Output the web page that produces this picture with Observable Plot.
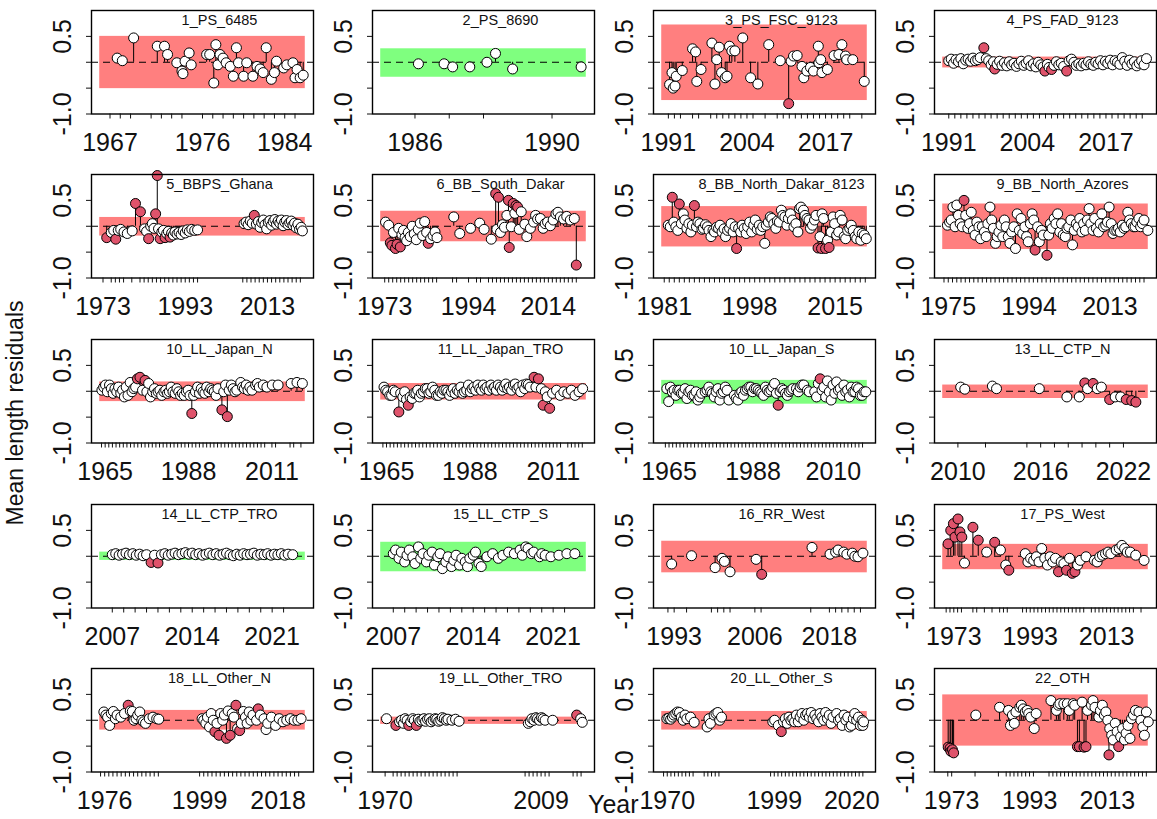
<!DOCTYPE html>
<html><head><meta charset="utf-8">
<script src="https://cdn.jsdelivr.net/npm/d3@7"></script>
<script src="https://cdn.jsdelivr.net/npm/@observablehq/plot@0.6"></script>
<style>
body{margin:0;background:#fff;}
#wrap{position:relative;width:1157px;height:819px;overflow:hidden;font-family:"Liberation Sans",Arial,sans-serif;}
</style></head><body><div id="wrap"></div>
<script>
// ---- panel metadata ----
const NAMES = ["1_PS_6485","2_PS_8690","3_PS_FSC_9123","4_PS_FAD_9123","5_BBPS_Ghana","6_BB_South_Dakar","8_BB_North_Dakar_8123","9_BB_North_Azores","10_LL_Japan_N","11_LL_Japan_TRO","10_LL_Japan_S","13_LL_CTP_N","14_LL_CTP_TRO","15_LL_CTP_S","16_RR_West","17_PS_West","18_LL_Other_N","19_LL_Other_TRO","20_LL_Other_S","22_OTH"];
const BAND_START = [1966,1985,1989.9,1990,1972.2,1972,1980.5,1973.7,1963.5,1963.4,1963.0,2008.9,2005.9,2005.9,1991.0,1970.1,1974.8,1968.9,1968.5,1970.7];
const BAND_END = [1986,1991,2023.9,2024,2022.2,2023.5,2021.4,2022.0,2020.2,2020.1,2019.3,2023.8,2023.9,2023.9,2024.1,2023.9,2024.6,2020.3,2024.2,2023.5];
const BAND_LO = [-0.51,-0.29,-0.74,-0.11,-0.19,-0.30,-0.40,-0.45,-0.20,-0.17,-0.25,-0.14,-0.08,-0.30,-0.32,-0.26,-0.19,-0.08,-0.19,-0.50];
const BAND_HI = [0.50,0.26,0.72,0.10,0.17,0.29,0.38,0.43,0.18,0.15,0.21,0.12,0.08,0.27,0.29,0.23,0.19,0.06,0.17,0.49];
const RUNS_PASS = [false,true,false,false,false,false,false,false,false,false,true,false,true,true,false,false,false,false,false,false];
const YEAR_LABELS = [[1967,1976,1984],[1986,1990],[1991,2004,2017],[1991,2004,2017],[1973,1993,2013],[1973,1994,2014],[1981,1998,2015],[1975,1994,2013],[1965,1988,2011],[1965,1988,2011],[1965,1988,2010],[2010,2016,2022],[2007,2014,2021],[2007,2014,2021],[1993,2006,2018],[1973,1993,2013],[1976,1999,2018],[1970,2009],[1970,1999,2020],[1973,1993,2013]];
const Y_TICKS = [-1,-0.5,0,0.5];
const Y_TICK_LABELS = [[0.5,"0.5"],[-1,"-1.0"]];

// ---- residuals: [year, mean length residual] ----
const p1 = [[1967.7,0.08],[1968.2,0.03],[1969.3,0.47],[1971.6,0.31],[1972.3,0.31],[1972.6,0.15],[1973.5,-0.01],[1974.0,-0.17],[1974.1,-0.22],[1974.3,0.02],[1974.7,0.18],[1974.9,-0.05],[1976.4,0.15],[1976.7,0.15],[1977.1,-0.40],[1977.3,0.34],[1977.5,-0.05],[1977.7,0.15],[1978.0,0.08],[1978.3,-0.01],[1978.7,-0.08],[1979.0,-0.27],[1979.3,0.28],[1979.5,-0.01],[1980.0,-0.27],[1980.3,-0.01],[1980.9,-0.27],[1981.3,-0.08],[1981.6,-0.13],[1981.9,-0.20],[1982.2,0.28],[1982.7,-0.33],[1983.0,-0.20],[1983.2,0.02],[1983.9,-0.11],[1984.2,-0.05],[1984.8,-0.01],[1985.0,-0.30],[1985.2,-0.14],[1985.5,-0.30],[1985.8,-0.25]];
const p2 = [[1986.1,-0.03],[1986.85,-0.03],[1987.1,-0.09],[1987.6,-0.09],[1988.1,0],[1988.35,0.17],[1988.85,-0.13],[1990.85,-0.09]];
const p3 = [[1991.2,-0.43],[1991.6,-0.20],[1991.8,-0.50],[1992.1,-0.46],[1992.3,-0.27],[1993.3,-0.16],[1995.0,0.26],[1995.5,0.20],[1995.7,-0.37],[1996.4,-0.14],[1998.2,0.37],[1998.7,-0.42],[1999.0,0.05],[1999.4,0.29],[1999.8,-0.20],[2000.4,-0.30],[2000.7,-0.27],[2001.1,0.31],[2001.5,0.22],[2002.0,0.22],[2003.3,0.47],[2004.6,-0.30],[2005.8,-0.42],[2007.6,0.34],[2009.5,0.03],[2010.9,-0.80],[2011.3,0.02],[2011.7,0.12],[2012.3,0.13],[2013.1,-0.08],[2013.4,-0.30],[2013.9,-0.17],[2014.5,-0.10],[2015.0,-0.17],[2015.8,0.31],[2015.9,-0.01],[2016.2,0.05],[2016.4,-0.20],[2017.3,-0.14],[2018.4,0.13],[2019.2,0.15],[2019.7,0.34],[2020.3,0.12],[2020.5,0.05],[2021.5,0.05],[2023.4,-0.37]];
const p4 = [[1991.0,0.03],[1991.4,0.06],[1991.8,-0.02],[1992.2,0.05],[1992.6,0.01],[1993.0,0.07],[1993.4,-0.03],[1993.8,0.04],[1994.2,0.06],[1994.6,0.02],[1995.0,0.08],[1995.4,0.03],[1995.8,0.05],[1996.2,0.09],[1996.8,0.28],[1997.2,0.07],[1997.6,0.03],[1998.0,-0.05],[1998.4,0.01],[1998.6,-0.13],[1999.0,-0.04],[1999.4,0.02],[1999.8,-0.06],[2000.2,-0.01],[2000.6,-0.07],[2001.0,0.01],[2001.4,-0.05],[2001.8,-0.02],[2002.2,-0.08],[2002.6,-0.03],[2003.0,0.02],[2003.4,-0.06],[2003.8,-0.02],[2004.2,0.03],[2004.6,-0.07],[2005.0,-0.03],[2005.4,-0.09],[2005.8,0.0],[2006.2,-0.05],[2006.6,-0.09],[2006.9,-0.17],[2007.3,-0.04],[2007.6,-0.10],[2008.0,-0.14],[2008.4,-0.06],[2008.8,0.01],[2009.2,-0.05],[2009.6,-0.02],[2010.0,-0.08],[2010.5,-0.17],[2010.9,0.03],[2011.3,0.06],[2011.7,0.0],[2012.1,-0.06],[2012.5,-0.03],[2012.9,-0.07],[2013.3,-0.02],[2013.7,-0.05],[2014.1,0.01],[2014.5,-0.04],[2014.9,-0.06],[2015.3,0.0],[2015.7,-0.03],[2016.1,0.03],[2016.5,-0.05],[2016.9,0.02],[2017.3,-0.02],[2017.7,0.04],[2018.1,-0.05],[2018.5,0.03],[2018.9,0.0],[2019.3,-0.04],[2019.7,0.09],[2020.1,0.02],[2020.5,-0.06],[2020.9,0.04],[2021.3,-0.03],[2021.7,0.01],[2022.1,-0.07],[2022.5,-0.02],[2022.9,0.03],[2023.3,-0.05],[2023.7,0.07]];
const p5 = [[1973.9,-0.22],[1975.0,-0.12],[1975.6,-0.08],[1976.1,-0.25],[1976.7,-0.08],[1977.3,-0.06],[1978.1,-0.11],[1978.9,-0.14],[1980.1,-0.09],[1980.9,0.44],[1982.1,0.28],[1983.1,-0.05],[1983.6,-0.10],[1984.1,-0.24],[1984.6,0.0],[1985.0,0.05],[1985.4,-0.04],[1985.8,0.24],[1986.2,0.98],[1986.5,-0.05],[1986.9,-0.24],[1987.3,-0.11],[1987.7,-0.08],[1988.1,-0.22],[1988.5,-0.14],[1988.9,-0.10],[1989.3,-0.21],[1989.7,-0.13],[1990.1,-0.17],[1990.5,-0.11],[1991.0,-0.15],[1991.5,-0.12],[1992.0,-0.16],[1992.5,-0.09],[1993.0,-0.13],[1993.5,-0.07],[1994.0,-0.10],[1994.6,-0.06],[1995.3,-0.08],[1996.0,-0.07],[2007.3,0.05],[2007.8,0.08],[2008.3,0.03],[2008.8,0.10],[2009.3,0.06],[2009.8,0.21],[2010.3,0.04],[2010.8,0.09],[2011.2,-0.02],[2011.6,0.07],[2012.0,0.12],[2012.4,0.03],[2012.8,-0.05],[2013.2,0.08],[2013.6,0.11],[2014.0,0.02],[2014.4,0.09],[2014.8,0.13],[2015.2,0.04],[2015.6,0.10],[2016.0,0.06],[2016.4,0.12],[2016.8,0.01],[2017.2,0.08],[2017.6,0.11],[2018.0,0.03],[2018.4,0.07],[2018.8,0.10],[2019.2,0.02],[2019.6,0.06],[2020.0,-0.03],[2020.4,0.04],[2020.8,-0.06],[2021.2,-0.02],[2021.5,-0.09]];
const p6 = [[1973.2,0.08],[1974.0,0.02],[1974.4,-0.32],[1974.8,-0.37],[1975.2,-0.12],[1975.7,-0.43],[1976.1,-0.35],[1976.5,-0.04],[1976.9,-0.40],[1977.3,-0.16],[1977.7,-0.08],[1978.1,-0.22],[1978.5,-0.28],[1978.9,-0.12],[1979.4,-0.20],[1979.9,0.0],[1980.4,-0.15],[1980.9,-0.26],[1981.4,-0.06],[1981.9,0.06],[1982.5,-0.18],[1983.0,0.09],[1983.5,-0.12],[1983.9,-0.33],[1984.5,-0.24],[1985.1,-0.18],[1985.6,-0.11],[1986.1,-0.22],[1990.3,0.18],[1991.8,-0.14],[1994.5,-0.04],[1996.8,0.06],[1997.9,-0.06],[1999.7,-0.25],[2000.8,0.63],[2001.1,-0.06],[2001.5,0.56],[2002.0,-0.12],[2002.5,0.03],[2003.0,-0.02],[2003.6,0.21],[2004.0,0.50],[2004.2,-0.41],[2004.7,-0.01],[2005.2,0.44],[2005.6,0.25],[2005.9,0.40],[2006.3,0.37],[2006.7,-0.06],[2007.2,0.28],[2008.1,0.04],[2008.6,-0.20],[2009.5,-0.04],[2010.3,0.08],[2010.8,0.21],[2011.3,0.14],[2012.0,0.15],[2012.7,-0.04],[2013.2,0.05],[2013.8,0.08],[2014.5,0.01],[2015.2,0.12],[2015.9,0.24],[2016.4,0.27],[2017.0,0.18],[2017.8,0.14],[2018.6,0.19],[2019.5,0.12],[2020.5,0.15],[2021.0,-0.75]];
const p8 = [[1981.8,0.02],[1982.2,-0.01],[1982.6,0.56],[1982.9,0.08],[1983.3,-0.01],[1983.7,-0.08],[1984.0,0.43],[1984.4,0.05],[1984.8,0.24],[1985.1,0.12],[1985.5,-0.04],[1985.9,0.05],[1986.3,-0.11],[1986.6,0.02],[1987.0,0.40],[1987.4,-0.01],[1987.7,0.08],[1988.1,0.05],[1988.5,-0.06],[1988.8,-0.04],[1989.2,0.03],[1989.6,-0.01],[1989.9,-0.08],[1990.3,-0.20],[1990.7,-0.08],[1991.0,-0.11],[1991.4,-0.02],[1991.8,-0.04],[1992.1,0.02],[1992.5,-0.11],[1992.9,-0.05],[1993.2,-0.20],[1993.6,-0.08],[1994.0,-0.04],[1994.3,0.05],[1994.7,-0.11],[1995.1,-0.01],[1995.4,-0.43],[1995.8,-0.04],[1996.2,-0.11],[1996.5,0.02],[1996.9,-0.04],[1997.3,-0.14],[1997.6,-0.01],[1998.0,0.08],[1998.4,-0.11],[1998.8,0.02],[1999.1,0.12],[1999.5,-0.06],[1999.9,0.02],[2000.2,-0.08],[2000.6,-0.01],[2001.0,-0.33],[2001.3,0.02],[2001.7,0.08],[2002.1,0.18],[2002.4,0.15],[2002.8,0.05],[2003.2,-0.04],[2003.5,0.10],[2003.9,0.08],[2004.3,0.31],[2004.6,0.21],[2005.0,0.18],[2005.4,0.02],[2005.7,0.15],[2006.1,0.24],[2006.5,0.12],[2006.8,-0.01],[2007.2,0.05],[2007.6,-0.11],[2007.9,0.34],[2008.2,0.37],[2008.7,0.31],[2009.0,0.21],[2009.4,0.15],[2009.8,0.12],[2010.1,-0.04],[2010.5,0.02],[2010.9,0.12],[2011.2,0.21],[2011.6,-0.42],[2012.0,-0.20],[2012.3,-0.43],[2012.4,0.24],[2012.7,0.15],[2013.1,-0.43],[2013.5,-0.27],[2013.8,-0.41],[2014.2,-0.11],[2014.6,0.18],[2014.9,0.05],[2015.3,-0.17],[2015.7,-0.11],[2016.0,0.21],[2016.4,0.12],[2016.8,-0.20],[2017.1,-0.24],[2017.5,-0.08],[2017.9,-0.04],[2018.2,0.02],[2018.6,-0.08],[2019.0,-0.20],[2019.3,-0.24],[2019.7,-0.11],[2020.1,-0.27],[2020.4,-0.14],[2020.8,-0.17],[2021.2,-0.24]];
const p9 = [[1974.8,0.02],[1975.3,0.08],[1975.7,0.12],[1976.1,0.37],[1976.6,-0.01],[1977.0,0.41],[1977.4,0.21],[1977.8,0.05],[1978.3,-0.01],[1978.7,0.50],[1979.1,0.21],[1979.6,-0.04],[1980.0,0.05],[1980.4,0.27],[1980.9,-0.08],[1981.3,-0.17],[1981.7,0.08],[1982.2,-0.01],[1982.6,-0.24],[1983.0,-0.01],[1983.5,-0.11],[1983.9,-0.20],[1984.3,0.05],[1984.8,0.37],[1985.2,0.12],[1985.6,-0.04],[1986.1,-0.33],[1986.5,-0.20],[1986.9,-0.11],[1987.4,0.02],[1987.8,-0.20],[1988.2,0.12],[1988.6,-0.01],[1989.1,-0.20],[1989.5,-0.33],[1989.9,-0.11],[1990.4,-0.01],[1990.8,-0.43],[1991.2,0.24],[1991.7,-0.08],[1992.1,0.15],[1992.5,-0.14],[1993.0,-0.01],[1993.4,-0.20],[1993.8,-0.30],[1994.3,0.05],[1994.7,0.24],[1995.1,0.12],[1995.4,-0.46],[1996.0,-0.01],[1996.4,-0.30],[1996.9,-0.08],[1997.3,-0.17],[1998.2,-0.56],[1998.6,-0.17],[1999.0,0.05],[1999.4,-0.04],[1999.9,0.15],[2000.3,0.05],[2000.7,0.24],[2001.2,-0.11],[2001.6,0.05],[2002.0,-0.17],[2002.5,-0.20],[2002.9,-0.04],[2003.3,-0.01],[2003.8,0.12],[2004.2,-0.36],[2004.6,-0.08],[2005.1,0.05],[2005.5,-0.01],[2005.9,0.15],[2006.4,-0.11],[2006.8,0.05],[2007.2,-0.08],[2007.7,0.12],[2008.1,0.34],[2008.5,0.05],[2009.0,-0.08],[2009.4,0.15],[2009.8,-0.04],[2010.3,-0.11],[2010.7,0.05],[2011.1,0.24],[2011.5,-0.01],[2012.0,0.02],[2012.4,0.08],[2012.8,0.37],[2013.3,0.05],[2013.7,-0.14],[2014.1,-0.08],[2014.6,-0.08],[2015.0,-0.04],[2015.4,-0.11],[2015.9,0.02],[2016.3,-0.04],[2016.7,-0.01],[2017.2,0.27],[2017.6,0.12],[2018.0,0.05],[2018.5,-0.01],[2018.9,-0.01],[2019.3,0.08],[2019.8,0.15],[2020.2,-0.01],[2020.6,0.05],[2021.0,0.12],[2021.9,-0.08]];
const p10 = [[1964.1,0.02],[1964.6,0.08],[1965.1,0.12],[1965.6,-0.01],[1966.2,0.12],[1966.7,0.05],[1967.2,-0.04],[1967.7,0.05],[1968.2,-0.01],[1968.7,0.08],[1969.3,-0.04],[1969.8,0.02],[1970.3,-0.11],[1970.8,0.08],[1971.3,-0.08],[1971.9,0.17],[1972.4,-0.01],[1972.9,0.05],[1973.4,0.08],[1973.9,0.24],[1974.6,0.27],[1975.3,0.02],[1976.0,0.21],[1976.5,-0.01],[1977.0,0.15],[1977.5,-0.11],[1978.1,-0.01],[1978.6,0.05],[1979.1,-0.04],[1979.6,-0.01],[1980.1,0.02],[1980.6,-0.08],[1981.2,-0.01],[1981.7,0.02],[1982.2,-0.04],[1982.7,-0.01],[1983.2,0.08],[1983.7,-0.01],[1984.3,-0.04],[1984.8,0.05],[1985.3,-0.01],[1985.8,-0.08],[1986.3,-0.04],[1986.8,-0.08],[1987.4,-0.01],[1987.9,0.02],[1988.4,-0.08],[1988.9,-0.43],[1989.4,-0.08],[1989.9,-0.01],[1990.5,0.08],[1991.0,-0.04],[1991.5,0.05],[1992.0,-0.01],[1992.5,-0.04],[1993.0,0.08],[1993.6,-0.01],[1994.1,0.05],[1994.6,0.02],[1995.1,-0.01],[1995.6,-0.08],[1996.1,0.05],[1997.2,-0.36],[1997.7,-0.01],[1998.2,0.12],[1998.7,-0.49],[1999.2,0.02],[1999.8,0.12],[2000.3,0.05],[2000.8,-0.01],[2001.3,0.02],[2002.4,0.17],[2002.9,0.08],[2003.4,0.05],[2003.9,0.12],[2004.4,0.02],[2004.9,0.08],[2005.5,0.02],[2006.5,0.12],[2007.0,0.15],[2007.5,0.08],[2008.6,0.12],[2009.6,0.08],[2011.1,0.12],[2012.7,0.12],[2016.3,0.15],[2017.9,0.17],[2019.4,0.15]];
const p11 = [[1964.3,0.08],[1964.8,0.02],[1965.3,-0.01],[1965.9,-0.08],[1966.4,-0.08],[1966.9,0.02],[1967.4,-0.01],[1968.4,-0.40],[1968.9,-0.04],[1969.5,-0.11],[1970.0,-0.01],[1970.5,-0.16],[1971.0,-0.27],[1971.5,-0.11],[1972.1,-0.14],[1972.6,-0.04],[1973.1,-0.04],[1973.6,0.02],[1974.1,-0.11],[1974.6,-0.04],[1975.2,-0.01],[1975.7,0.05],[1976.2,0.05],[1976.7,-0.04],[1977.2,-0.01],[1977.7,0.08],[1978.3,0.02],[1978.8,-0.08],[1979.3,-0.08],[1979.8,-0.01],[1980.3,-0.04],[1980.8,0.02],[1981.4,0.02],[1981.9,-0.01],[1982.4,-0.08],[1982.9,-0.01],[1983.4,0.05],[1983.9,-0.04],[1984.5,0.02],[1985.0,-0.01],[1985.5,0.08],[1986.0,-0.04],[1986.5,-0.01],[1987.1,0.02],[1987.6,0.12],[1988.1,-0.01],[1988.6,0.05],[1989.1,0.08],[1989.6,0.02],[1990.2,0.12],[1990.7,0.05],[1991.2,0.02],[1991.7,0.12],[1992.2,0.05],[1992.7,0.08],[1993.3,0.02],[1993.8,0.12],[1994.3,0.05],[1994.8,0.08],[1995.3,0.02],[1995.8,0.12],[1996.4,0.08],[1996.9,0.02],[1997.4,0.08],[1997.9,0.14],[1998.4,0.05],[1998.9,0.08],[1999.5,0.02],[2000.0,0.12],[2000.5,0.14],[2001.0,0.05],[2001.5,0.08],[2002.0,-0.01],[2002.6,0.12],[2003.1,0.05],[2003.6,0.14],[2004.1,0.13],[2004.6,0.08],[2005.7,0.27],[2006.2,0.08],[2006.9,0.24],[2007.7,0.05],[2008.2,-0.27],[2008.8,-0.01],[2009.3,-0.11],[2010.0,-0.33],[2010.8,-0.04],[2011.9,0.02],[2012.9,-0.08],[2013.9,-0.01],[2015.0,-0.04],[2016.0,0.02],[2017.0,-0.08],[2018.1,-0.01],[2019.1,0.05]];
const p12 = [[1964.4,0.05],[1964.9,-0.20],[1965.4,0.08],[1965.9,-0.01],[1966.4,0.02],[1966.9,-0.08],[1967.4,0.02],[1967.9,0.02],[1968.4,-0.04],[1968.9,-0.04],[1969.4,0.05],[1969.9,-0.14],[1970.4,-0.01],[1970.9,0.02],[1971.4,-0.08],[1971.9,-0.08],[1972.4,-0.01],[1972.9,-0.17],[1973.4,-0.11],[1973.9,-0.04],[1974.9,-0.01],[1975.4,0.02],[1975.9,0.08],[1976.4,-0.01],[1976.9,-0.04],[1977.4,-0.11],[1977.9,-0.01],[1978.4,0.05],[1978.9,-0.17],[1979.4,-0.04],[1979.9,-0.01],[1980.4,0.08],[1980.9,0.02],[1981.4,-0.17],[1982.9,-0.08],[1983.4,-0.14],[1983.9,-0.17],[1984.4,-0.04],[1984.9,-0.01],[1985.4,-0.08],[1985.9,0.02],[1986.4,0.05],[1986.9,0.08],[1987.4,0.08],[1987.9,-0.01],[1988.4,0.05],[1988.9,0.05],[1989.4,0.02],[1989.9,-0.01],[1990.4,-0.04],[1990.9,-0.08],[1991.4,0.08],[1991.9,0.02],[1992.4,-0.01],[1992.9,0.02],[1993.4,0.08],[1993.9,0.15],[1994.4,-0.04],[1994.9,-0.27],[1995.4,-0.01],[1995.9,0.05],[1996.4,0.02],[1996.9,-0.04],[1997.4,-0.08],[1997.9,-0.01],[1998.4,0.02],[1998.9,0.05],[1999.9,0.05],[2000.4,-0.01],[2000.9,0.08],[2001.4,0.12],[2001.9,0.12],[2002.9,0.02],[2003.4,-0.01],[2004.9,-0.01],[2005.4,-0.11],[2005.9,0.15],[2006.4,0.24],[2006.9,0.02],[2007.4,0.08],[2007.9,-0.11],[2008.4,0.20],[2008.9,-0.01],[2009.4,-0.17],[2009.9,0.12],[2010.4,-0.04],[2010.9,0.18],[2011.4,0.02],[2011.9,0.05],[2012.4,-0.08],[2012.9,0.12],[2013.4,-0.01],[2013.9,0.02],[2014.4,-0.11],[2014.9,0.08],[2015.4,-0.01],[2015.9,-0.01],[2016.4,0.08],[2016.9,0.05],[2017.4,-0.08],[2017.9,-0.08],[2018.4,-0.01],[2018.9,-0.01]];
const p13 = [[2010.2,0.08],[2010.5,0.04],[2012.5,0.10],[2012.8,0.05],[2015.9,0.05],[2017.9,-0.11],[2018.8,-0.11],[2019.2,0.16],[2019.4,0.05],[2019.8,0.15],[2020.1,0.05],[2020.4,0.08],[2021.0,-0.16],[2021.4,-0.11],[2021.8,-0.11],[2022.2,-0.16],[2022.6,-0.18],[2022.9,-0.21]];
const p14 = [[2007.0,0.03],[2007.3,0.05],[2007.6,0.02],[2007.9,0.04],[2008.2,0.06],[2008.5,0.03],[2008.8,0.05],[2009.1,0.02],[2009.4,0.04],[2009.7,0.01],[2010.0,0.03],[2010.4,-0.12],[2010.7,0.02],[2011.0,-0.13],[2011.3,0.03],[2011.6,0.05],[2011.9,0.02],[2012.2,0.04],[2012.5,0.06],[2012.8,0.03],[2013.1,0.05],[2013.4,0.07],[2013.7,0.04],[2014.0,0.06],[2014.3,0.03],[2014.6,0.05],[2014.9,0.02],[2015.2,0.04],[2015.5,0.06],[2015.8,0.03],[2016.1,0.05],[2016.4,0.02],[2016.7,0.04],[2017.0,0.06],[2017.3,0.03],[2017.6,0.01],[2017.9,0.04],[2018.2,0.02],[2018.5,0.05],[2018.8,0.03],[2019.1,0.04],[2019.4,0.06],[2019.7,0.02],[2020.0,0.04],[2020.3,0.03],[2020.6,0.05],[2020.9,0.02],[2021.2,0.04],[2021.5,0.03],[2021.8,0.05],[2022.1,0.02],[2022.4,0.04],[2022.8,0.03]];
const p15 = [[2007.0,0.05],[2007.2,0.12],[2007.5,-0.04],[2007.7,0.08],[2008.0,-0.11],[2008.2,0.02],[2008.4,0.12],[2008.7,-0.01],[2008.9,-0.14],[2009.2,0.18],[2009.4,-0.04],[2009.6,0.05],[2009.9,-0.11],[2010.1,0.02],[2010.4,0.08],[2010.6,-0.17],[2010.9,-0.01],[2011.1,0.05],[2011.3,-0.24],[2011.6,-0.11],[2011.8,-0.01],[2012.1,-0.20],[2012.3,-0.08],[2012.5,0.02],[2012.8,-0.17],[2013.0,-0.04],[2013.3,-0.11],[2013.5,-0.20],[2013.7,-0.04],[2014.0,0.02],[2014.2,0.08],[2014.5,-0.14],[2014.7,-0.20],[2015.2,-0.01],[2015.7,0.05],[2016.2,-0.04],[2016.6,0.02],[2017.1,0.08],[2017.6,0.05],[2018.1,0.12],[2018.3,0.02],[2018.6,0.18],[2018.8,0.15],[2019.1,0.05],[2019.3,0.08],[2019.8,-0.01],[2020.0,0.05],[2020.3,0.02],[2020.8,-0.01],[2021.5,0.02],[2022.2,0.05],[2022.9,0.05]];
const p16 = [[1992.6,-0.15],[1995.8,0.01],[1999.6,-0.22],[2000.7,-0.04],[2001.1,-0.10],[2002.0,-0.30],[2006.2,-0.06],[2007.1,-0.35],[2015.2,0.17],[2018.1,0.04],[2019.0,0.08],[2019.4,0.12],[2020.3,0.08],[2020.8,0.04],[2021.7,0.06],[2022.1,0.0],[2022.6,-0.01],[2023.4,0.06]];
const p17 = [[1971.5,0.24],[1972.2,0.50],[1972.9,0.63],[1973.3,0.37],[1974.1,0.72],[1974.6,0.47],[1975.1,0.37],[1975.8,-0.13],[1978.0,0.56],[1979.4,0.31],[1981.6,0.08],[1983.7,0.27],[1985.2,0.12],[1986.6,-0.17],[1987.4,-0.27],[1991.7,0.05],[1992.4,-0.11],[1993.1,-0.04],[1993.9,-0.08],[1994.6,-0.01],[1995.3,-0.11],[1996.0,0.15],[1996.8,-0.04],[1997.5,-0.17],[1998.2,-0.01],[1998.9,-0.11],[1999.6,-0.04],[2000.4,-0.30],[2001.1,-0.11],[2001.8,-0.14],[2002.5,-0.27],[2003.3,-0.04],[2004.0,-0.33],[2004.7,-0.30],[2005.4,-0.17],[2006.1,-0.08],[2007.6,-0.01],[2009.8,-0.08],[2010.5,-0.11],[2011.2,-0.01],[2011.9,0.02],[2012.7,0.05],[2013.4,0.08],[2014.1,0.05],[2015.5,0.12],[2016.3,0.15],[2017.0,0.21],[2017.7,0.15],[2018.4,0.08],[2019.2,0.08],[2020.6,0.02],[2022.8,-0.08]];
const p18 = [[1975.8,0.16],[1976.3,0.10],[1976.7,0.06],[1977.2,-0.10],[1977.6,0.13],[1978.1,0.17],[1978.6,0.03],[1979.0,0.10],[1979.9,0.06],[1980.8,0.13],[1981.7,0.29],[1982.2,0.18],[1982.7,0.17],[1983.1,0.0],[1983.6,0.03],[1984.0,0.10],[1984.5,0.16],[1985.0,0.0],[1985.4,-0.03],[1985.9,-0.06],[1986.8,0.03],[1987.7,0.06],[1988.6,0.03],[1989.1,0.02],[1999.6,0.03],[2000.0,0.0],[2000.5,-0.06],[2000.9,0.06],[2001.4,-0.13],[2001.8,0.13],[2002.3,0.0],[2002.7,-0.22],[2003.2,-0.06],[2003.7,-0.29],[2004.1,0.13],[2004.6,0.0],[2005.0,0.10],[2005.5,-0.35],[2005.9,0.18],[2006.4,-0.29],[2006.9,0.13],[2007.3,0.06],[2007.8,0.29],[2008.2,-0.16],[2008.7,-0.20],[2009.1,-0.06],[2009.6,0.17],[2010.1,0.06],[2010.5,-0.06],[2011.0,0.16],[2011.4,0.0],[2011.9,0.10],[2012.8,0.0],[2013.2,0.22],[2013.7,0.10],[2014.6,0.03],[2015.1,-0.18],[2015.5,-0.06],[2016.4,0.06],[2017.4,-0.10],[2018.3,0.03],[2019.2,-0.03],[2020.1,0.0],[2021.0,0.03],[2021.9,0.0],[2022.8,0.0],[2023.6,0.03]];
const p19 = [[1970.35,0.03],[1972.7,-0.10],[1973.6,-0.03],[1974.1,0.0],[1974.6,-0.06],[1975.0,0.03],[1975.5,0.0],[1975.9,-0.10],[1976.4,-0.03],[1976.9,0.03],[1977.3,0.0],[1977.8,-0.10],[1978.3,0.02],[1978.7,-0.02],[1979.2,0.0],[1979.7,0.03],[1980.1,-0.02],[1980.6,0.02],[1981.1,0.03],[1981.5,-0.03],[1982.0,0.0],[1982.5,0.03],[1982.9,0.02],[1983.4,-0.02],[1983.9,0.0],[1984.3,0.05],[1984.8,0.03],[1985.3,0.0],[1985.7,0.02],[1986.7,0.0],[1987.6,0.02],[1988.5,-0.02],[2005.8,-0.06],[2006.3,-0.03],[2006.7,0.03],[2007.2,0.0],[2007.7,0.05],[2008.1,0.03],[2008.6,0.0],[2009.1,0.05],[2009.5,0.03],[2010.0,0.0],[2011.9,0.0],[2017.9,0.10],[2018.9,0.03],[2019.3,-0.04]];
const p20 = [[1969.9,0.03],[1970.4,0.04],[1970.9,0.02],[1971.4,0.06],[1971.8,0.10],[1972.3,0.13],[1972.8,0.16],[1973.3,0.15],[1973.8,0.06],[1974.3,0.0],[1974.8,0.10],[1975.3,0.03],[1976.3,0.06],[1977.3,-0.04],[1980.8,-0.13],[1981.3,0.03],[1981.7,-0.06],[1982.7,0.10],[1983.2,0.13],[1983.7,0.15],[1984.2,0.0],[1984.7,0.06],[1998.6,-0.03],[1999.1,0.0],[2000.1,-0.10],[2000.9,-0.22],[2001.5,-0.03],[2002.0,0.03],[2002.5,-0.06],[2003.0,0.06],[2003.5,0.0],[2004.0,0.03],[2004.5,-0.03],[2005.0,0.10],[2005.5,-0.03],[2006.0,0.06],[2006.5,0.13],[2007.0,0.0],[2007.5,0.10],[2008.0,0.13],[2008.5,0.06],[2009.0,0.15],[2009.5,0.03],[2010.0,0.10],[2010.5,0.03],[2011.0,-0.03],[2011.4,0.13],[2011.9,0.06],[2012.4,0.0],[2012.9,0.15],[2013.4,0.03],[2013.9,0.10],[2014.4,-0.06],[2014.9,0.06],[2015.9,0.13],[2016.4,0.0],[2016.9,0.03],[2017.4,-0.10],[2017.9,0.10],[2018.4,0.0],[2018.9,0.06],[2019.4,-0.13],[2019.9,-0.10],[2020.4,0.03],[2020.8,0.13],[2021.3,0.0],[2021.8,0.06],[2022.3,-0.10],[2022.8,0.0],[2023.0,-0.10],[2023.2,-0.03]];
const p22 = [[1972.1,-0.52],[1972.6,-0.54],[1972.8,-0.60],[1973.2,-0.57],[1973.5,-0.63],[1979.2,0.10],[1985.3,0.25],[1987.6,0.19],[1988.1,-0.10],[1988.6,0.10],[1989.1,-0.06],[1989.5,0.16],[1990.5,0.25],[1990.9,0.29],[1991.4,0.22],[1991.9,0.16],[1992.4,0.19],[1992.8,0.13],[1993.3,0.06],[1994.2,-0.16],[1994.7,0.13],[1998.5,0.38],[1999.9,0.19],[2000.4,0.29],[2000.8,0.32],[2001.8,0.32],[2002.7,0.32],[2003.2,0.19],[2004.2,0.32],[2004.6,0.29],[2005.3,-0.51],[2005.8,-0.51],[2006.5,0.35],[2007.0,-0.52],[2007.5,-0.51],[2007.9,0.19],[2008.9,0.29],[2009.3,0.38],[2009.8,0.25],[2010.8,0.06],[2011.2,0.19],[2011.7,0.29],[2012.2,0.10],[2012.6,0.16],[2013.1,0.0],[2013.4,-0.67],[2013.6,-0.16],[2014.1,-0.29],[2014.5,-0.38],[2015.0,-0.06],[2015.5,-0.22],[2015.9,-0.51],[2016.4,-0.32],[2016.9,-0.16],[2017.4,-0.38],[2017.8,-0.25],[2018.3,-0.10],[2018.8,-0.35],[2019.2,0.03],[2019.7,0.10],[2020.2,0.19],[2021.1,0.16],[2021.6,0.0],[2022.1,-0.13],[2022.5,-0.29],[2023.0,0.16],[2023.5,-0.03]];

const SERIES = [p1,p2,p3,p4,p5,p6,p8,p9,p10,p11,p12,p13,p14,p15,p16,p17,p18,p19,p20,p22];

// ---- layout ----
const BOX_W = 222, BOX_H = 103.5, COL_STEP = 281, ROW_STEP = 164.7, BOX_X0 = 91, BOX_Y0 = 9.5;
const ML = 60, MT = 10, MR = 6, MB = 45;
const FONT = "Liberation Sans, Arial, Helvetica, sans-serif";
const wrap = document.getElementById("wrap");

SERIES.forEach((series, i) => {
  const r = Math.floor(i / 4), c = i % 4;
  const x0 = BAND_START[i], x1 = BAND_END[i], L = x1 - x0;
  const lo = BAND_LO[i], hi = BAND_HI[i];
  const data = series.map(([yr, res]) => ({yr, res, fill: (res < lo || res > hi) ? "#DF536B" : "#ffffff"}));
  const labels = YEAR_LABELS[i];
  const ticks = Array.from(new Set(series.map(d => Math.floor(d[0])).concat(labels))).sort((a, b) => a - b);
  const chart = Plot.plot({
    width: ML + BOX_W + MR, height: MT + BOX_H + MB,
    marginLeft: ML, marginTop: MT, marginRight: MR, marginBottom: MB,
    x: {domain: [x0 - 0.04 * L, x1 + 0.04 * L]},
    y: {domain: [-1, 1]},
    color: {type: "identity"},
    style: {background: "transparent", overflow: "visible", fontFamily: FONT, color: "#111"},
    marks: [
      Plot.rect([{x0, x1, lo, hi}], {x1: "x0", x2: "x1", y1: "lo", y2: "hi",
        fill: RUNS_PASS[i] ? "#00ff00" : "#ff0000", fillOpacity: 0.5}),
      Plot.ruleY([0], {stroke: "#000", strokeWidth: 1.1, strokeDasharray: "7,5"}),
      Plot.ruleX(data, {x: "yr", y1: 0, y2: "res", stroke: "#000", strokeWidth: 1}),
      Plot.dot(data, {x: "yr", y: "res", r: 5, fill: "fill", stroke: "#000", strokeWidth: 1}),
      Plot.frame({stroke: "#000", strokeWidth: 1.4}),
      Plot.axisX({ticks, tickSize: 5, tickPadding: 14, fontSize: 25, label: null,
        tickFormat: d => labels.includes(d) ? String(d) : ""}),
      Plot.axisY({ticks: Y_TICKS, tickSize: 5, label: null, tickFormat: () => ""}),
      Plot.text(Y_TICK_LABELS, {y: d => d[0], text: d => d[1], frameAnchor: "left", dx: -29,
        rotate: -90, textAnchor: "middle", lineAnchor: "middle", fontSize: 25}),
      Plot.text([NAMES[i]], {text: d => d, frameAnchor: "top", dx: 17, dy: 4, lineAnchor: "top", fontSize: 14.5})
    ]
  });
  chart.style.position = "absolute";
  chart.style.left = (BOX_X0 + COL_STEP * c - ML) + "px";
  chart.style.top = (BOX_Y0 + ROW_STEP * r - MT) + "px";
  chart.style.maxWidth = "none";
  wrap.appendChild(chart);
});

// outer labels
const ns = "http://www.w3.org/2000/svg";
const over = document.createElementNS(ns, "svg");
over.setAttribute("width", 1157); over.setAttribute("height", 819);
over.style.position = "absolute"; over.style.left = "0px"; over.style.top = "0px"; over.style.pointerEvents = "none";
const yl = document.createElementNS(ns, "text");
yl.setAttribute("transform", "translate(23,413) rotate(-90)");
yl.setAttribute("text-anchor", "middle");
yl.setAttribute("font-family", FONT); yl.setAttribute("font-size", "23"); yl.setAttribute("fill", "#111");
yl.textContent = "Mean length residuals";
over.appendChild(yl);
const xl = document.createElementNS(ns, "text");
xl.setAttribute("x", 588); xl.setAttribute("y", 813);
xl.setAttribute("font-family", FONT); xl.setAttribute("font-size", "25"); xl.setAttribute("fill", "#111");
xl.textContent = "Year";
over.appendChild(xl);
wrap.appendChild(over);
</script></body></html>
